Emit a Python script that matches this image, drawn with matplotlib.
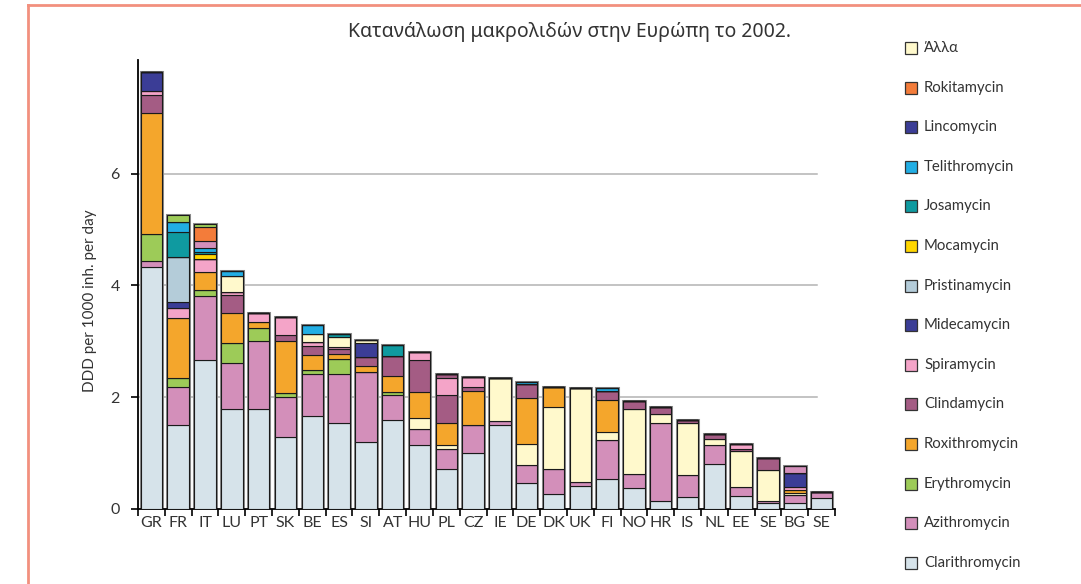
import numpy as np
import matplotlib
matplotlib.use("Agg")
import matplotlib.pyplot as plt
from matplotlib.patches import Rectangle
from matplotlib.lines import Line2D

plt.rcParams['font.family'] = ['Lato', 'Noto Sans', 'DejaVu Sans']

countries = ["GR", "FR", "IT", "LU", "PT", "SK", "BE", "ES", "SI", "AT", "HU", "PL", "CZ",
             "IE", "DE", "DK", "UK", "FI", "NO", "HR", "IS", "NL", "EE", "SE", "BG", "SE"]

# segment heights, DDD per 1000 inh. per day
clarithromycin = [4.32, 1.50, 2.67, 1.78, 1.78, 1.28, 1.67, 1.54, 1.19, 1.59, 1.14, 0.72, 1.01,
                  1.50, 0.47, 0.26, 0.41, 0.53, 0.37, 0.14, 0.22, 0.80, 0.23, 0.10, 0.10, 0.20]
azithromycin = [0.11, 0.69, 1.14, 0.84, 1.23, 0.73, 0.75, 0.88, 1.26, 0.44, 0.29, 0.35, 0.49,
                0.08, 0.31, 0.45, 0.07, 0.70, 0.25, 1.40, 0.39, 0.34, 0.17, 0.04, 0.15, 0.11]
erythromycin = [0.49, 0.15, 0.11, 0.34, 0.22, 0.07, 0.07, 0.26, 0.00, 0.07, 0.00, 0.00, 0.00,
                0.00, 0.00, 0.00, 0.00, 0.00, 0.00, 0.00, 0.00, 0.00, 0.00, 0.00, 0.00, 0.00]
alla_low = [0.00, 0.00, 0.00, 0.00, 0.00, 0.00, 0.00, 0.00, 0.00, 0.00, 0.19, 0.07, 0.00,
            0.76, 0.38, 1.11, 1.68, 0.14, 1.16, 0.16, 0.92, 0.12, 0.64, 0.55, 0.03, 0.00]
roxithromycin = [2.16, 1.07, 0.32, 0.54, 0.12, 0.93, 0.26, 0.09, 0.11, 0.27, 0.47, 0.39, 0.61,
                 0.00, 0.82, 0.37, 0.00, 0.58, 0.00, 0.00, 0.00, 0.00, 0.00, 0.00, 0.06, 0.00]
clindamycin = [0.33, 0.00, 0.00, 0.32, 0.00, 0.11, 0.17, 0.09, 0.15, 0.37, 0.58, 0.51, 0.07,
               0.00, 0.26, 0.00, 0.00, 0.16, 0.15, 0.13, 0.06, 0.09, 0.04, 0.23, 0.00, 0.00]
spiramycin = [0.06, 0.18, 0.23, 0.06, 0.16, 0.31, 0.06, 0.04, 0.00, 0.00, 0.13, 0.30, 0.18,
              0.00, 0.00, 0.00, 0.00, 0.00, 0.00, 0.00, 0.00, 0.00, 0.08, 0.00, 0.06, 0.00]
clinda_upper = [0.00, 0.00, 0.00, 0.00, 0.00, 0.00, 0.00, 0.00, 0.00, 0.00, 0.00, 0.08, 0.00,
                0.00, 0.00, 0.00, 0.00, 0.00, 0.00, 0.00, 0.00, 0.00, 0.00, 0.00, 0.00, 0.00]
midecamycin = [0.34, 0.11, 0.00, 0.00, 0.00, 0.00, 0.00, 0.00, 0.00, 0.00, 0.00, 0.00, 0.00,
               0.00, 0.00, 0.00, 0.00, 0.00, 0.00, 0.00, 0.00, 0.00, 0.00, 0.00, 0.25, 0.00]
pristinamycin = [0.00, 0.81, 0.00, 0.00, 0.00, 0.00, 0.00, 0.00, 0.00, 0.00, 0.00, 0.00, 0.00,
                 0.00, 0.00, 0.00, 0.00, 0.00, 0.00, 0.00, 0.00, 0.00, 0.00, 0.00, 0.00, 0.00]
lincomycin = [0.00, 0.00, 0.00, 0.00, 0.00, 0.00, 0.00, 0.00, 0.25, 0.00, 0.00, 0.00, 0.00,
              0.00, 0.00, 0.00, 0.00, 0.00, 0.00, 0.00, 0.00, 0.00, 0.00, 0.00, 0.00, 0.00]
alla_upper = [0.00, 0.00, 0.00, 0.29, 0.00, 0.00, 0.15, 0.17, 0.06, 0.00, 0.00, 0.00, 0.00,
              0.00, 0.00, 0.00, 0.00, 0.00, 0.00, 0.00, 0.00, 0.00, 0.00, 0.00, 0.00, 0.00]
mocamycin = [0.00, 0.00, 0.09, 0.00, 0.00, 0.00, 0.00, 0.00, 0.00, 0.00, 0.00, 0.00, 0.00,
             0.00, 0.00, 0.00, 0.00, 0.00, 0.00, 0.00, 0.00, 0.00, 0.00, 0.00, 0.00, 0.00]
josamycin = [0.00, 0.44, 0.04, 0.00, 0.00, 0.00, 0.00, 0.06, 0.00, 0.19, 0.00, 0.00, 0.00,
             0.00, 0.00, 0.00, 0.00, 0.00, 0.00, 0.00, 0.00, 0.00, 0.00, 0.00, 0.00, 0.00]
telithromycin = [0.00, 0.19, 0.06, 0.09, 0.00, 0.00, 0.16, 0.00, 0.00, 0.00, 0.00, 0.00, 0.00,
                 0.00, 0.04, 0.00, 0.00, 0.05, 0.00, 0.00, 0.00, 0.00, 0.00, 0.00, 0.00, 0.00]
azi_upper = [0.00, 0.00, 0.13, 0.00, 0.00, 0.00, 0.00, 0.00, 0.00, 0.00, 0.00, 0.00, 0.00,
             0.00, 0.00, 0.00, 0.00, 0.00, 0.00, 0.00, 0.00, 0.00, 0.00, 0.00, 0.12, 0.00]
rokitamycin = [0.00, 0.00, 0.25, 0.00, 0.00, 0.00, 0.00, 0.00, 0.00, 0.00, 0.00, 0.00, 0.00,
               0.00, 0.00, 0.00, 0.00, 0.00, 0.00, 0.00, 0.00, 0.00, 0.00, 0.00, 0.00, 0.00]
ery_upper = [0.00, 0.11, 0.06, 0.00, 0.00, 0.00, 0.00, 0.00, 0.00, 0.00, 0.00, 0.00, 0.00,
             0.00, 0.00, 0.00, 0.00, 0.00, 0.00, 0.00, 0.00, 0.00, 0.00, 0.00, 0.00, 0.00]

colors = {
    "Clarithromycin": "#d6e3ea", "Azithromycin": "#d38fba", "Erythromycin": "#9dcb58",
    "Roxithromycin": "#f4a62c", "Clindamycin": "#a45c84", "Spiramycin": "#f4a4c8",
    "Midecamycin": "#3b3d96", "Pristinamycin": "#b4ccd9", "Mocamycin": "#ffd600",
    "Josamycin": "#0f9aa0", "Telithromycin": "#22aee4", "Lincomycin": "#3b3d96",
    "Rokitamycin": "#f37c3a", "Άλλα": "#fff9cc",
}

# stacking order, bottom to top
stack = [
    (clarithromycin, "Clarithromycin"), (azithromycin, "Azithromycin"),
    (erythromycin, "Erythromycin"), (alla_low, "Άλλα"), (roxithromycin, "Roxithromycin"),
    (clindamycin, "Clindamycin"), (spiramycin, "Spiramycin"), (clinda_upper, "Clindamycin"),
    (midecamycin, "Midecamycin"), (pristinamycin, "Pristinamycin"), (lincomycin, "Lincomycin"),
    (alla_upper, "Άλλα"), (mocamycin, "Mocamycin"), (josamycin, "Josamycin"),
    (telithromycin, "Telithromycin"), (azi_upper, "Azithromycin"),
    (rokitamycin, "Rokitamycin"), (ery_upper, "Erythromycin"),
]

legend_order = ["Άλλα", "Rokitamycin", "Lincomycin", "Telithromycin", "Josamycin", "Mocamycin",
                "Pristinamycin", "Midecamycin", "Spiramycin", "Clindamycin", "Roxithromycin",
                "Erythromycin", "Azithromycin", "Clarithromycin"]

W, H = 1081, 584
fig = plt.figure(figsize=(W / 100, H / 100), dpi=100)
ax = fig.add_axes([138 / W, 1 - 509 / H, (835 - 138) / W, (509 - 60) / H])

x = np.arange(len(countries))
width = 0.8
totals = np.sum([np.array(v) for v, _ in stack], axis=0)
ax.bar(x, totals, width=width, facecolor="none", edgecolor="#8c8c8c", linewidth=2.2, zorder=2)
bottom = np.zeros(len(countries))
for vals, name in stack:
    vals = np.array(vals)
    ax.bar(x, vals, width=width, bottom=bottom, color=colors[name], edgecolor="#1a1a1a",
           linewidth=0.8, zorder=3)
    bottom += vals

for yv in [2, 4, 6]:
    ax.axhline(yv, xmin=0, xmax=(817 - 138) / (835 - 138), color="#b3b3b3", lw=1.1, zorder=1)

ax.set_xlim(-0.5, len(countries) - 0.5)
ax.set_ylim(0, 8.03)
ax.set_yticks([0, 2, 4, 6])
ax.set_xticks(x)
ax.set_xticklabels(countries, fontsize=11.5, color="#333333")
ax.set_xticks(np.arange(len(countries) + 1) - 0.5, minor=True)
ax.tick_params(axis="x", which="major", length=0, pad=5)
ax.tick_params(axis="x", which="minor", length=5, width=1.2, direction="out")
ax.tick_params(axis="y", length=5, width=1.2, labelsize=11.5, labelcolor="#333333", pad=8)
for s in ["top", "right"]:
    ax.spines[s].set_visible(False)
for s in ["left", "bottom"]:
    ax.spines[s].set_linewidth(1.3)
ax.set_ylabel("DDD per 1000 inh. per day", fontsize=11, color="#333333")
ax.yaxis.set_label_coords(-0.059, 0.465)

fig.text(570 / W, 1 - 32 / H, "Κατανάλωση μακρολιδών στην Ευρώπη το 2002.",
         ha="center", va="center", fontsize=14, color="#333333",
         family=["Noto Sans", "DejaVu Sans"], fontweight="light")

# legend, drawn by hand in figure pixels
for i, name in enumerate(legend_order):
    yc = 48 + i * 39.6
    fig.patches.append(Rectangle((905 / W, 1 - (yc + 6) / H), 12 / W, 12 / H,
                                 transform=fig.transFigure, facecolor=colors[name],
                                 edgecolor="#333333", linewidth=0.9))
    fig.text(924 / W, 1 - yc / H, name, ha="left", va="center", fontsize=10.7, color="#333333")

# salmon frame
fig.add_artist(Line2D([28 / W, 1], [1 - 5 / H, 1 - 5 / H], transform=fig.transFigure,
                      color="#f2907e", lw=2))
fig.add_artist(Line2D([28 / W, 28 / W], [0, 1 - 5 / H], transform=fig.transFigure,
                      color="#f2907e", lw=2))

fig.savefig("out.png", dpi=100)
